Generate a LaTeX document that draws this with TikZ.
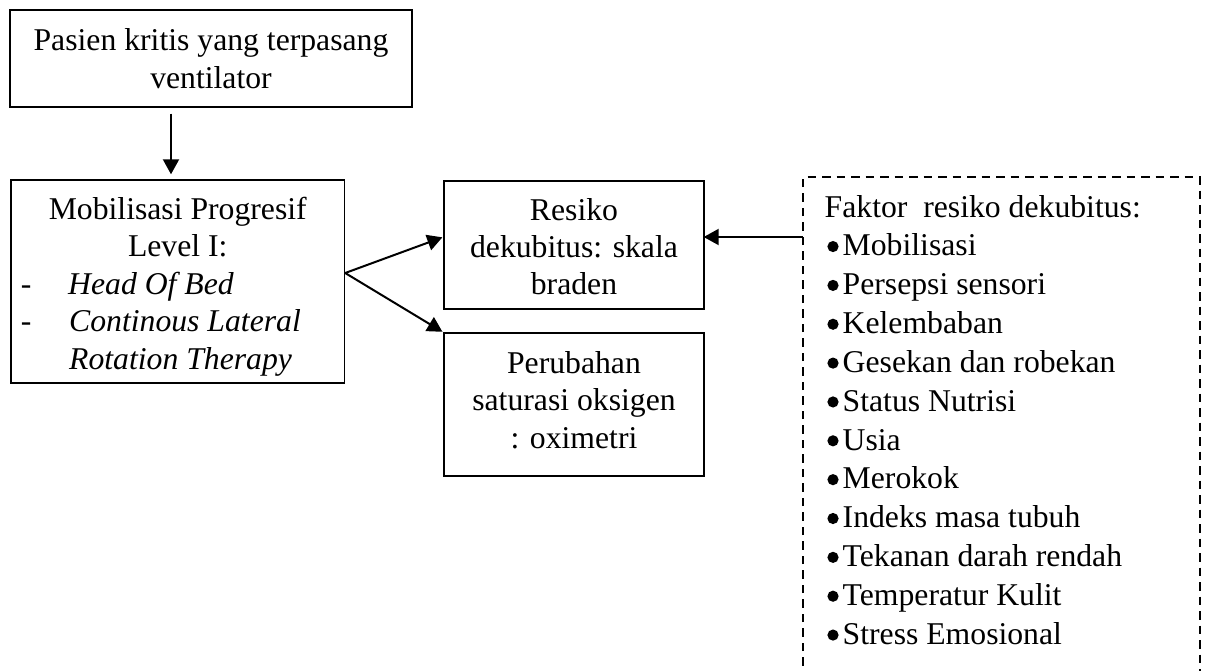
\documentclass[tikz,border=0pt]{standalone}
\usepackage{fontspec}
\setmainfont{Liberation Serif}
\usetikzlibrary{arrows.meta,calc}
\begin{document}
\begin{tikzpicture}[x=1pt,y=-1pt,
  box/.style={draw, line width=1.4pt, inner sep=0pt, rectangle},
  txt/.style={inner sep=0pt, font=\fontsize{31.7}{38.5}\selectfont},
  arr/.style={line width=2pt, -{Triangle[length=15pt,width=16pt]}},
  dashbox/.style={line width=1.6pt, dash pattern=on 8.5pt off 6pt},
  bul/.style={fill=black},
]
\useasboundingbox (0,0) rectangle (1209,670);

% boxes
\node[box, minimum width=402pt, minimum height=97pt] (b1) at (211,58.5) {};
\node[box, minimum width=333.5pt, minimum height=203pt] (b2) at (177.75,281.5) {};
\node[box, minimum width=260pt, minimum height=128pt] (b3) at (574,245) {};
\node[box, minimum width=260pt, minimum height=143pt] (b4) at (574,404.5) {};

% box 1 text
\node[txt, anchor=base] (t1a) at (211,50) {Pasien kritis yang terpasang};
\node[txt, anchor=base] (t1b) at (211,88) {ventilator};

% box 2 text
\node[txt, anchor=base] (t2a) at (177.75,219) {Mobilisasi Progresif};
\node[txt, anchor=base] (t2b) at (177.75,256.5) {Level I:};
\node[txt, anchor=base west] (d2c) at (20.7,294) {-};
\node[txt, anchor=base west] (t2c) at (68,294) {\itshape Head Of Bed};
\node[txt, anchor=base west] (d2d) at (20.7,331.5) {-};
\node[txt, anchor=base west] (t2d) at (69,331.5) {\itshape Continous Lateral};
\node[txt, anchor=base west] (t2e) at (69,369) {\itshape Rotation Therapy};

% box 3 text
\node[txt, anchor=base] (t3a) at (574,220) {Resiko};
\node[txt, anchor=base] (t3b) at (574,257) {dekubitus: skala};
\node[txt, anchor=base] (t3c) at (574,294) {braden};

% box 4 text
\node[txt, anchor=base] (t4a) at (574,373) {Perubahan};
\node[txt, anchor=base] (t4b) at (574,410.5) {saturasi oksigen};
\node[txt, anchor=base] (t4c) at (574,448) {: oximetri};

% dashed factor box (bottom runs off the page)
\draw[dashbox] (803,680) -- (803,177) -- (1200,177) -- (1200,680);
\coordinate (fk) at (803,237);
\node[txt, anchor=base west] (f0) at (824.5,217) {Faktor\ \ resiko dekubitus:};
\foreach \s [count=\i] in {Mobilisasi, Persepsi sensori, Kelembaban,
  Gesekan dan robekan, Status Nutrisi, Usia, Merokok, Indeks masa tubuh,
  Tekanan darah rendah, Temperatur Kulit, Stress Emosional} {
  \node[txt, anchor=base west] (f\i) at (842.5,{217+38.85*\i}) {\s};
  \fill[bul] (833,{217+38.85*\i-9.3}) circle (5.6pt);
}

% connectors
\coordinate (a1s) at ($(b1.south)+(-40,6)$);
\draw[arr, shorten >=5pt] (a1s) -- (a1s |- b2.north);
\coordinate (a2s) at ($(b2.east)+(0,-8.5)$);
\draw[arr, shorten >=1pt] (a2s) -- (fk -| b3.west);
\draw[arr, shorten >=1pt] (a2s) -- (b4.north west);
\draw[arr, shorten >=-1pt] (fk) -- (fk -| b3.east);
\end{tikzpicture}
\end{document}
